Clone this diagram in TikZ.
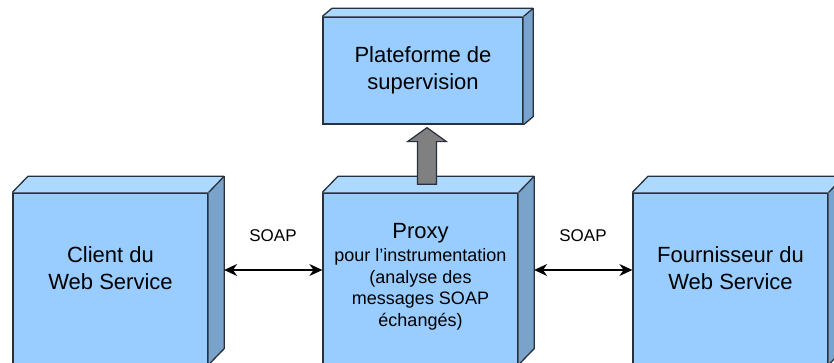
\documentclass[tikz,border=0pt]{standalone}
\usepackage{fontspec}
\setmainfont{Liberation Sans}
\usetikzlibrary{calc,arrows.meta}
\definecolor{frontc}{RGB}{153,204,255}
\definecolor{topc}{RGB}{173,216,255}
\definecolor{sidec}{RGB}{122,163,204}
\definecolor{edgec}{RGB}{40,48,60}
\definecolor{arrowg}{RGB}{128,128,128}
\tikzset{
  front/.style={draw=edgec, line width=1.3pt, fill=frontc, align=center, inner sep=0pt},
  bigbox/.style={front, minimum width=195pt, minimum height=171pt},
  face/.style={draw=edgec, line width=1.3pt, line join=round},
  bigtxt/.style={font=\fontsize{22}{27}\selectfont},
  soaplbl/.style={font=\fontsize{17}{20}\selectfont},
  soaparrow/.style={{Stealth[length=13pt,width=12pt]}-{Stealth[length=13pt,width=12pt]}, line width=1.2pt, black},
  garrow/.style={draw=edgec, fill=arrowg, line width=1.2pt, line join=miter}
}
\newcommand\boxfaces[3]{%
  \fill[topc] (#1.north west) -- ++(#2,#3) -- ($(#1.north east)+(#2,#3)$) -- (#1.north east) -- cycle;
  \fill[sidec] (#1.north east) -- ++(#2,#3) -- ($(#1.south east)+(#2,#3)$) -- (#1.south east) -- cycle;
  \draw[face] (#1.north west) -- ++(#2,#3) -- ($(#1.north east)+(#2,#3)$) -- ($(#1.south east)+(#2,#3)$) -- (#1.south east);
  \draw[face] (#1.north east) -- ++(#2,#3);
}
\begin{document}
\begin{tikzpicture}[x=1pt,y=-1pt]
\useasboundingbox (0,0) rectangle (834,363);
\clip (0,0) rectangle (834,363);
% boxes
\node[front, minimum width=200pt, minimum height=107pt, font=\fontsize{22}{27}\selectfont] (plat) at (423,70.5) {Plateforme de\\supervision};
\boxfaces{plat}{9.5}{-8}
\node[bigbox, bigtxt] (client) at (110.5,278.5) {};
\boxfaces{client}{15.5}{-16}
\node[bigbox] (proxy) at (420.5,278.5) {};
\boxfaces{proxy}{15.5}{-16}
\node[bigbox] (four) at (730.5,278.5) {};
\boxfaces{four}{15.5}{-16}
% texts
\node[bigtxt, align=center] (clienttxt) at (110.5,268) {Client du\\Web Service};
\node[bigtxt, align=center] (fourtxt) at (730.5,268) {Fournisseur du\\Web Service};
\node[align=center, font=\fontsize{18}{21.7}\selectfont] (proxytxt) at (420.5,277) {{\fontsize{22}{22}\selectfont Proxy}\\[1pt]pour l’instrumentation\\(analyse des\\messages SOAP\\échangés)};
% gray arrow
\coordinate (a1) at ($(proxy.north)+(6.5,-8)$);
\coordinate (a2) at ($(plat.south)+(4,3)$);
\draw[garrow] ($(a1)+(-9.5,0)$) -- ($(a2)+(-9.5,14)$) -- ($(a2)+(-19.5,14)$) -- (a2) -- ($(a2)+(19.5,14)$) -- ($(a2)+(9.5,14)$) -- ($(a1)+(9.5,0)$) -- cycle;
% SOAP arrows
\draw[soaparrow] ([xshift=15.5pt,yshift=8.5pt]client.east) -- ([yshift=8.5pt]proxy.west);
\draw[soaparrow] ([xshift=15.5pt,yshift=8.5pt]proxy.east) -- ([yshift=8.5pt]four.west);
\node[soaplbl] (soap1) at (273,236) {SOAP};
\node[soaplbl] (soap2) at (583,236) {SOAP};
\end{tikzpicture}
\end{document}
